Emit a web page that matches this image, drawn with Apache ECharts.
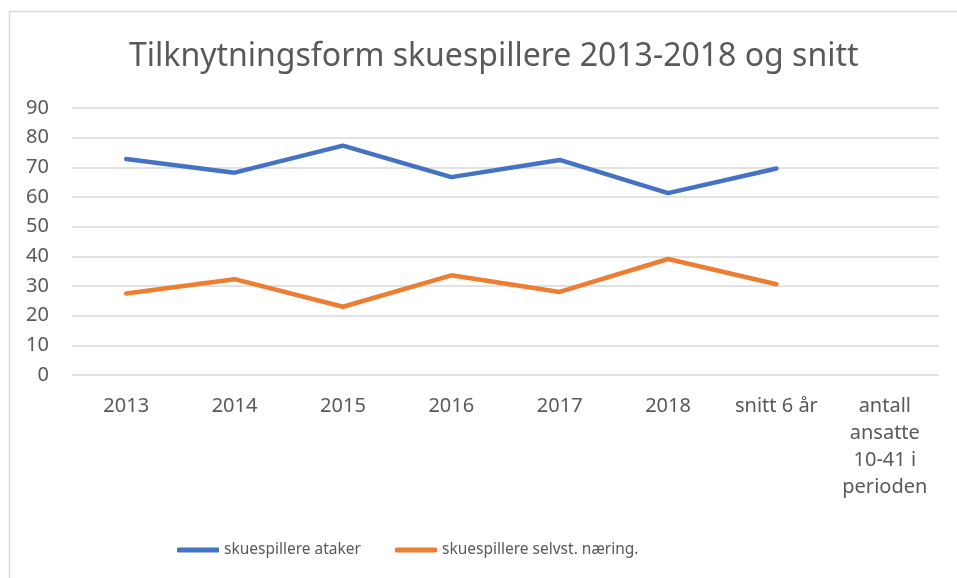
<!DOCTYPE html>
<html>
<head>
<meta charset="utf-8">
<script src="https://cdn.jsdelivr.net/npm/echarts@6/dist/echarts.min.js"></script>
<style>
  html, body { margin: 0; padding: 0; background: #fff; }
  #chart { width: 957px; height: 578px; }
</style>
</head>
<body>
<div id="chart"></div>
<script>
const titleText = 'Tilknytningsform skuespillere 2013-2018 og snitt';
const categories = ['2013', '2014', '2015', '2016', '2017', '2018', 'snitt 6 år', 'antall\nansatte\n10-41 i\nperioden'];
const seriesNames = ['skuespillere ataker', 'skuespillere selvst. næring.'];
const ataker = [72.8, 68.2, 77.3, 66.7, 72.5, 61.3, 69.6, null];
const selvst = [27.5, 32.3, 23.0, 33.6, 28.0, 39.1, 30.6, null];
const yMin = 0, yMax = 90, yInterval = 10;

const FONT = '"Noto Sans", "Open Sans", sans-serif';
const TXT = '#595959';

const chart = echarts.init(document.getElementById('chart'), null, { renderer: 'canvas' });
chart.setOption({
  animation: false,
  backgroundColor: '#fff',
  textStyle: { fontFamily: FONT, color: TXT },
  graphic: [{
    type: 'rect', left: 7, top: 9, silent: true,
    shape: { width: 1000, height: 600 },
    style: { fill: 'none', stroke: '#d9d9d9', lineWidth: 1.5 }
  }],
  title: {
    text: titleText, left: 124, top: 36,
    textStyle: { fontFamily: FONT, fontSize: 32, fontWeight: 'normal', color: TXT }
  },
  legend: {
    data: seriesNames, left: 172, top: 537,
    icon: 'roundRect', itemWidth: 42, itemHeight: 5, itemGap: 34,
    textStyle: { fontFamily: FONT, fontSize: 15.5, color: TXT }
  },
  grid: { left: 72, right: 18, top: 108, bottom: 203, containLabel: false },
  xAxis: {
    type: 'category', data: categories, boundaryGap: true,
    axisLine: { show: false }, axisTick: { show: false },
    axisLabel: { color: TXT, fontFamily: FONT, fontSize: 20, margin: 18, lineHeight: 27, interval: 0 }
  },
  yAxis: {
    type: 'value', min: yMin, max: yMax, interval: yInterval,
    axisLine: { show: false }, axisTick: { show: false },
    axisLabel: { color: TXT, fontFamily: FONT, fontSize: 20, margin: 23 },
    splitLine: { lineStyle: { color: '#d9d9d9', width: 1.5 } }
  },
  series: [
    { name: seriesNames[0], type: 'line', data: ataker, showSymbol: false, symbol: 'none',
      lineStyle: { color: '#4472C4', width: 4.5, cap: 'round', join: 'round' }, itemStyle: { color: '#4472C4' } },
    { name: seriesNames[1], type: 'line', data: selvst, showSymbol: false, symbol: 'none',
      lineStyle: { color: '#ED7D31', width: 4.5, cap: 'round', join: 'round' }, itemStyle: { color: '#ED7D31' } }
  ]
});
</script>
</body>
</html>
